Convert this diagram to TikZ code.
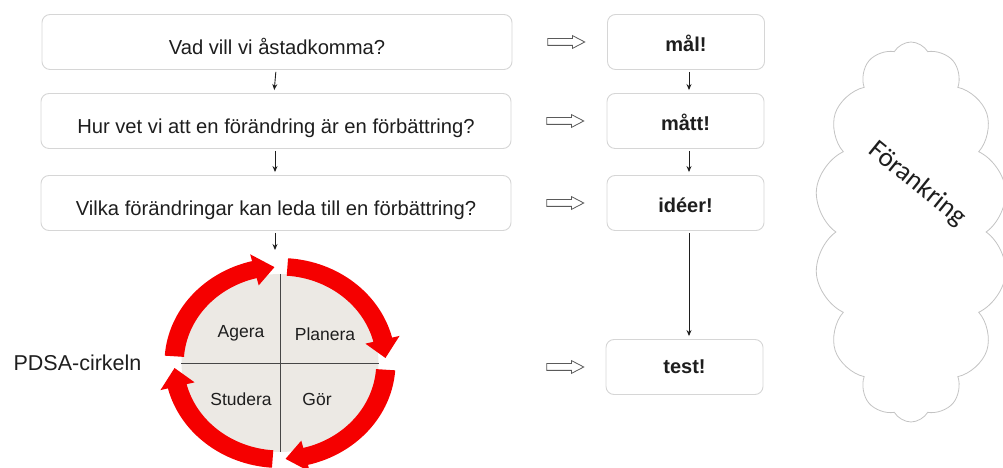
\documentclass[tikz,border=0pt]{standalone}
\usepackage{fontspec}
\setmainfont{Liberation Sans}
\newfontfamily\cloudfont{Carlito}
\usetikzlibrary{shapes.symbols,shapes.arrows,shapes.geometric,arrows.meta}
\definecolor{boxline}{RGB}{214,214,214}
\definecolor{txt}{RGB}{30,30,30}
\definecolor{disc}{RGB}{236,233,228}
\definecolor{pdsared}{RGB}{245,0,0}
\definecolor{cloudline}{RGB}{195,195,195}
\definecolor{hollow}{RGB}{90,90,90}
\definecolor{quadline}{RGB}{70,70,70}
\begin{document}
\begin{tikzpicture}[x=1pt,y=1pt,
  qbox/.style={draw=boxline, line width=0.9pt, rounded corners=8pt, fill=white,
    minimum width=470pt, minimum height=55pt, inner sep=0pt,
    text height=25pt, text depth=0pt,
    font=\fontsize{20.2}{22}\selectfont, text=txt},
  abox/.style={draw=boxline, line width=0.9pt, rounded corners=8pt, fill=white,
    minimum width=157pt, minimum height=55pt, inner sep=0pt,
    text height=19pt, text depth=0pt,
    font=\fontsize{20}{24}\selectfont\bfseries, text=txt},
  flow/.style={-{Stealth[length=6pt,width=5pt]}, line width=0.9pt, draw=txt,
    shorten >=3pt, shorten <=2pt},
  hollowarrow/.style={single arrow, draw=hollow, fill=white, line width=0.8pt,
    minimum height=37pt, inner sep=3pt, single arrow head extend=3pt,
    single arrow tip angle=55},
  quad/.style={draw=quadline, line width=0.9pt},
  qlabel/.style={font=\fontsize{17.5}{20}\selectfont, text=txt},
  redarrow/.style={fill=pdsared}
]
\useasboundingbox (0,0) rectangle (1003,468);

% question boxes
\node[qbox] (q1) at (277,426) {Vad vill vi åstadkomma?};
\node[qbox] (q2) at (276,347) {Hur vet vi att en förändring är en förbättring?};
\node[qbox] (q3) at (276,265) {Vilka förändringar kan leda till en förbättring?};

% answer boxes
\node[abox] (a1) at (686,426) {mål!};
\node[abox] (a2) at (685.5,347) {mått!};
\node[abox] (a3) at (685.5,265) {idéer!};
\node[abox, text height=14pt] (a4) at (684.5,101) {test!};

% hollow arrows
\node[hollowarrow] (h1) at (563,426) {};
\node[hollowarrow] (h2) at (562,347) {};
\node[hollowarrow] (h3) at (562,265) {};
\node[hollowarrow] (h4) at (562,101) {};

% PDSA circle
\node[ellipse, fill=disc, minimum width=197pt, minimum height=178pt, inner sep=0pt] (pdsa) at (280,105) {};
\draw[quad] (pdsa.north) -- (pdsa.south);
\draw[quad] (pdsa.west) -- (pdsa.east);
\begin{scope}[shift={(280,105)}, xscale=1.1]
  \foreach \a in {176,86,-4,-94} {
    \fill[redarrow] (\a:105) arc[start angle=\a, end angle={\a-72}, radius=105]
      -- ({\a-72}:112) -- ({\a-83}:96) -- ({\a-72}:80) -- ({\a-72}:87.5)
      arc[start angle={\a-72}, end angle=\a, radius=87.5] -- cycle;
  }
\end{scope}
\node[qlabel] (agera) at (241,135) {Agera};
\node[qlabel] (planera) at (325,134) {Planera};
\node[qlabel] (studera) at (241,69) {Studera};
\node[qlabel] (gor) at (317,69) {Gör};
\node[font=\fontsize{21.5}{24}\selectfont, text=txt] (pdsalabel) at (77.5,105) {PDSA-cirkeln};

% connectors
\coordinate (ctop) at (275,215);
\draw[flow] ([xshift=-1pt]q1.south) -- ([xshift=-2pt]q2.north);
\draw[flow] ([xshift=-1pt]q2.south) -- ([xshift=-1pt]q3.north);
\draw[flow] (q3.south -| ctop) -- (ctop);
\draw[flow] ([xshift=3pt]a1.south) -- ([xshift=3.5pt]a2.north);
\draw[flow] ([xshift=3.5pt]a2.south) -- ([xshift=3.5pt]a3.north);
\draw[flow] ([xshift=3.5pt]a3.south) -- ([xshift=4.5pt]a4.north);

% cloud
\node[cloud, draw=cloudline, line width=0.8pt, cloud puffs=14, cloud puff arc=120,
  cloud ignores aspect, minimum width=194pt, minimum height=380pt, inner sep=0pt] (cloud) at (911,236) {};
\node[rotate=-39, font=\cloudfont\fontsize{27}{30}\selectfont, text=txt] (fa) at (917,284) {Förankring};
\end{tikzpicture}
\end{document}
